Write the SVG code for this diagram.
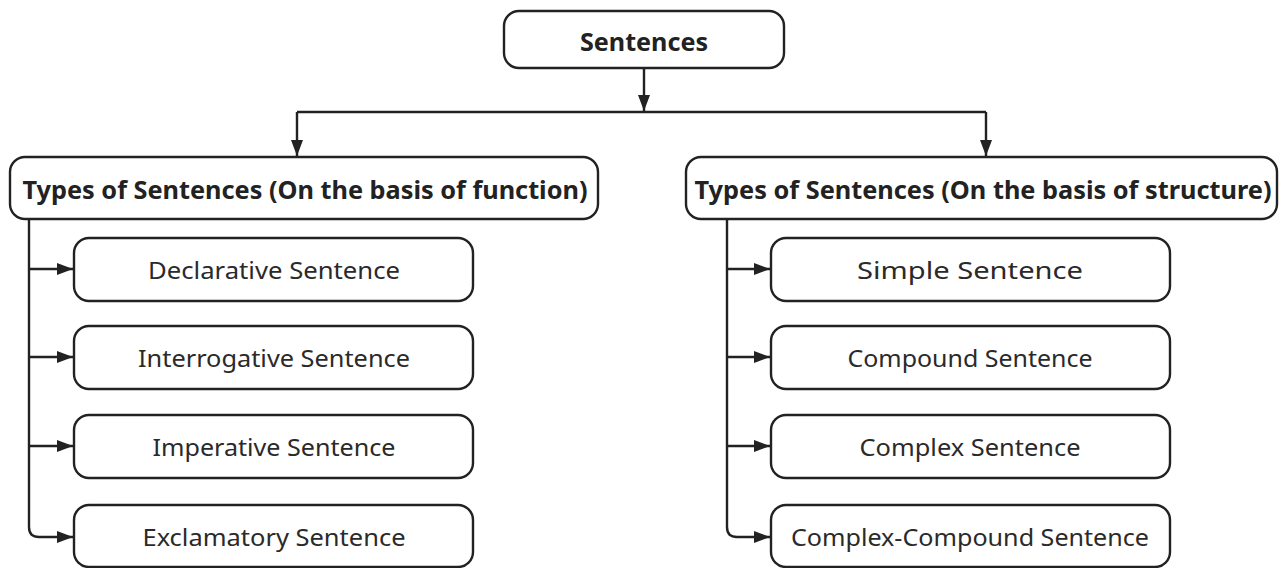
<svg xmlns="http://www.w3.org/2000/svg" width="1282" height="568" viewBox="0 0 1282 568">
<style>
.box{fill:#fff;stroke:#222;stroke-width:2.4}
.t{font-family:"Noto Sans","Open Sans",sans-serif;fill:#222;text-anchor:middle;dominant-baseline:central}
.b{font-weight:bold;font-size:25px}
.n{font-size:23px;fill:#2a2a2a}
.c{fill:none;stroke:#222;stroke-width:2.4}
</style>
<defs>
<marker id="a" viewBox="0 0 16 12" refX="16" refY="6" markerWidth="16" markerHeight="12" markerUnits="userSpaceOnUse" orient="auto">
<path d="M0,0 L16,6 L0,12 z" fill="#222"/>
</marker>
</defs>
<rect width="1282" height="568" fill="#fff"/>
<g id="connectors">
<path class="c" d="M644,68 V111" marker-end="url(#a)"/>
<path class="c" d="M297,112 H986"/>
<path class="c" d="M297,112 V156" marker-end="url(#a)"/>
<path class="c" d="M986,112 V156" marker-end="url(#a)"/>
<path class="c" d="M29,219 V527 Q29,537 39,537 H73" marker-end="url(#a)"/>
<path class="c" d="M29,269 H73" marker-end="url(#a)"/>
<path class="c" d="M29,357 H73" marker-end="url(#a)"/>
<path class="c" d="M29,446 H73" marker-end="url(#a)"/>
<path class="c" d="M727,219 V527 Q727,537 737,537 H770" marker-end="url(#a)"/>
<path class="c" d="M727,269 H770" marker-end="url(#a)"/>
<path class="c" d="M727,357 H770" marker-end="url(#a)"/>
<path class="c" d="M727,446 H770" marker-end="url(#a)"/>
</g>
<g id="sentences"><rect class="box" x="504" y="11" width="280" height="57" rx="15"/><text class="t b" x="644" y="41" textLength="128" lengthAdjust="spacingAndGlyphs">Sentences</text></g>
<g id="function"><rect class="box" x="10" y="157" width="588" height="62" rx="15"/><text class="t b" x="305" y="189" textLength="565" lengthAdjust="spacingAndGlyphs">Types of Sentences (On the basis of function)</text></g>
<g id="structure"><rect class="box" x="686" y="157" width="591" height="62" rx="15"/><text class="t b" x="983" y="189" textLength="577" lengthAdjust="spacingAndGlyphs">Types of Sentences (On the basis of structure)</text></g>
<g id="declarative"><rect class="box" x="74" y="238" width="399" height="63" rx="15"/><text class="t n" x="274" y="270" textLength="252" lengthAdjust="spacingAndGlyphs">Declarative Sentence</text></g>
<g id="interrogative"><rect class="box" x="74" y="326" width="399" height="63" rx="15"/><text class="t n" x="274" y="358" textLength="272" lengthAdjust="spacingAndGlyphs">Interrogative Sentence</text></g>
<g id="imperative"><rect class="box" x="74" y="415" width="399" height="63" rx="15"/><text class="t n" x="274" y="447" textLength="243" lengthAdjust="spacingAndGlyphs">Imperative Sentence</text></g>
<g id="exclamatory"><rect class="box" x="74" y="505" width="399" height="62" rx="15"/><text class="t n" x="274" y="537" textLength="263" lengthAdjust="spacingAndGlyphs">Exclamatory Sentence</text></g>
<g id="simple"><rect class="box" x="771" y="238" width="399" height="63" rx="15"/><text class="t n" x="970" y="270" textLength="226" lengthAdjust="spacingAndGlyphs">Simple Sentence</text></g>
<g id="compound"><rect class="box" x="771" y="326" width="399" height="63" rx="15"/><text class="t n" x="970" y="358" textLength="245" lengthAdjust="spacingAndGlyphs">Compound Sentence</text></g>
<g id="complex"><rect class="box" x="771" y="415" width="399" height="63" rx="15"/><text class="t n" x="970" y="447" textLength="221" lengthAdjust="spacingAndGlyphs">Complex Sentence</text></g>
<g id="complex-compound"><rect class="box" x="771" y="505" width="399" height="62" rx="15"/><text class="t n" x="970" y="537" textLength="358" lengthAdjust="spacingAndGlyphs">Complex-Compound Sentence</text></g>
</svg>
